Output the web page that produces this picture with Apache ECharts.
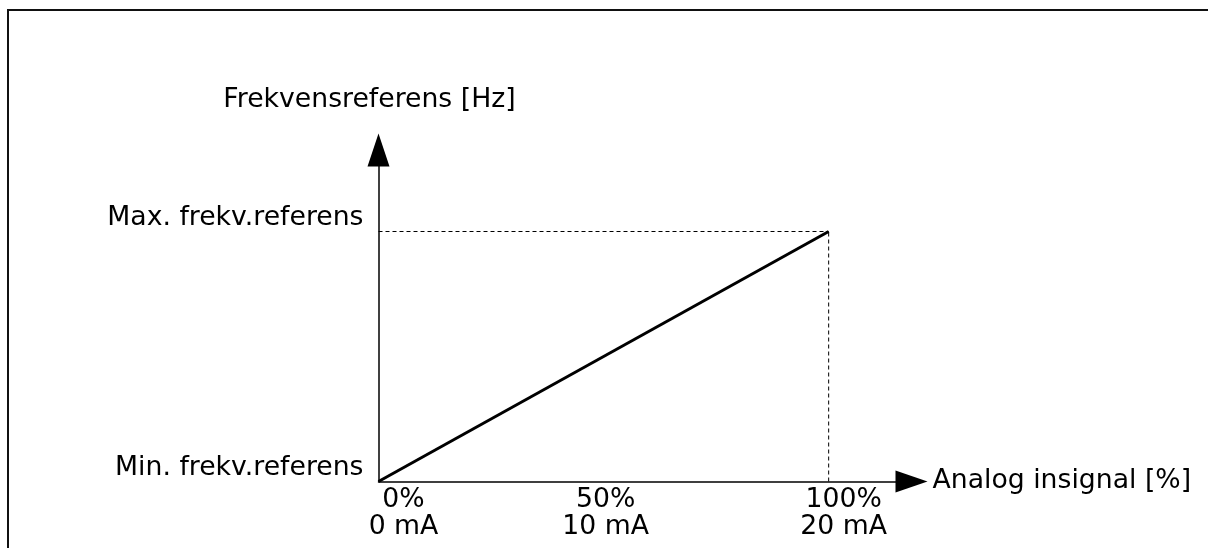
<!DOCTYPE html>
<html>
<head>
<meta charset="utf-8">
<script src="https://cdn.jsdelivr.net/npm/echarts@6/dist/echarts.min.js"></script>
<style>
  html, body { margin: 0; padding: 0; background: #fff; }
  #chart { width: 1208px; height: 548px; }
</style>
</head>
<body>
<div id="chart"></div>
<script>
// Analog input (%) against frequency reference (relative level, 0 = min, 100 = max)
const inputPct = [0, 100];
const freqLevel = [0, 100];

// Tick labels on the input axis
const xTickValues = [0, 50, 100];
const xTickPct = ['0%', '50%', '100%'];
const xTickCurrent = ['0 mA', '10 mA', '20 mA'];

// Tick labels on the reference axis
const yTickValues = [0, 100];
const yTickLabels = ['Min. frekv.referens', 'Max. frekv.referens'];

const xName = 'Analog insignal [%]';
const yName = 'Frekvensreferens [Hz]';

const FONT = 'DejaVu Sans';
const FS = 26.7;
const INK = '#000';

const linePoints = inputPct.map((x, i) => [x, freqLevel[i]]);
const maxX = inputPct[inputPct.length - 1];
const maxY = freqLevel[freqLevel.length - 1];

// horizontal nudge (left padding) for each input tick label
const xLabelShift = { 0: 50, 50: 4, 100: 30 };

const rich = {};
xTickValues.forEach(v => {
  rich['t' + v] = {
    fontFamily: FONT, fontSize: FS, lineHeight: 27, color: INK,
    padding: [0, 0, 0, xLabelShift[v]]
  };
});

const chart = echarts.init(document.getElementById('chart'), null, { renderer: 'canvas' });

chart.setOption({
  animation: false,
  backgroundColor: '#fff',
  graphic: [{
    type: 'rect',
    shape: { x: 8, y: 10, width: 1400, height: 800 },
    style: { fill: 'none', stroke: '#111', lineWidth: 2 },
    silent: true
  }],
  grid: { left: 378.5, right: 296.5, top: 150, bottom: 66.5, containLabel: false },
  xAxis: {
    type: 'value',
    min: 0,
    max: 118.4,
    interval: 50,
    name: xName,
    nameLocation: 'end',
    nameGap: 21,
    nameTextStyle: { fontFamily: FONT, fontSize: FS, color: INK, padding: [0, 0, 23, 0] },
    axisLine: {
      show: true,
      symbol: ['none', 'triangle'],
      symbolSize: [22, 32],
      lineStyle: { color: INK, width: 1.5 }
    },
    axisTick: { show: false },
    splitLine: { show: false },
    axisLabel: {
      margin: 5,
      showMaxLabel: false,
      formatter: v => {
        const i = xTickValues.indexOf(v);
        if (i < 0) return '';
        return '{t' + v + '|' + xTickPct[i] + '}\n{t' + v + '|' + xTickCurrent[i] + '}';
      },
      rich: rich,
      fontFamily: FONT, fontSize: FS, lineHeight: 27, color: INK
    }
  },
  yAxis: {
    type: 'value',
    min: 0,
    max: 132.6,
    interval: 100,
    name: yName,
    nameLocation: 'end',
    nameGap: 36,
    nameTextStyle: { fontFamily: FONT, fontSize: FS, color: INK, align: 'center', padding: [0, 18, 0, 0] },
    axisLine: {
      show: true,
      symbol: ['none', 'triangle'],
      symbolSize: [22, 33],
      lineStyle: { color: INK, width: 1.5 }
    },
    axisTick: { show: false },
    splitLine: { show: false },
    axisLabel: {
      margin: 15,
      showMaxLabel: false,
      verticalAlign: 'bottom',
      formatter: v => {
        const i = yTickValues.indexOf(v);
        return i < 0 ? '' : yTickLabels[i];
      },
      fontFamily: FONT, fontSize: FS, color: INK
    }
  },
  series: [
    {
      name: 'max-guide-h',
      type: 'line',
      data: [[0, maxY], [maxX, maxY]],
      showSymbol: false,
      lineStyle: { color: INK, width: 1, type: [4, 3] },
      silent: true
    },
    {
      name: 'max-guide-v',
      type: 'line',
      data: [[maxX, 0], [maxX, maxY]],
      showSymbol: false,
      lineStyle: { color: INK, width: 1, type: [4, 3] },
      silent: true
    },
    {
      name: 'reference',
      type: 'line',
      data: linePoints,
      showSymbol: false,
      lineStyle: { color: INK, width: 3 },
      silent: true
    }
  ]
});
</script>
</body>
</html>
